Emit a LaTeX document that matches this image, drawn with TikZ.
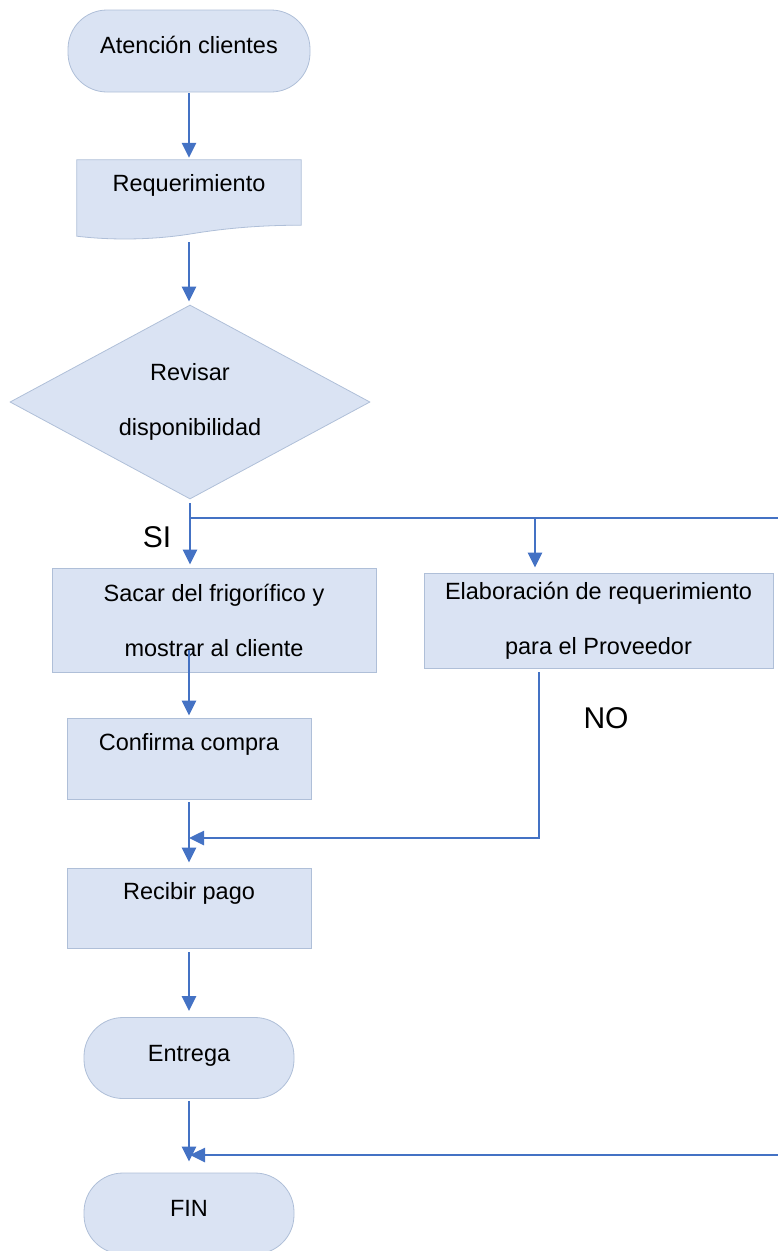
\documentclass[tikz,border=0pt]{standalone}
\usepackage{fontspec}
\setmainfont{Liberation Sans}
\usetikzlibrary{positioning, calc, arrows.meta, shapes.geometric, backgrounds}
\definecolor{boxfill}{HTML}{DAE3F3}
\definecolor{boxline}{HTML}{AFBFD8}
\definecolor{flowblue}{HTML}{4472C4}
\tikzset{
every node/.style = {font = \fontsize{23.5}{28}\selectfont},
terminal/.style = {rectangle, rounded corners = 39pt, draw = boxline, fill = boxfill,
   line width = .8pt, inner sep = 0pt, minimum width = 242pt, minimum height = 82pt},
process/.style = {rectangle, draw = boxline, fill = boxfill, line width = .8pt,
   inner sep = 0pt, minimum width = 244pt, minimum height = 81pt},
document/.style = {rectangle, inner sep = 0pt, minimum width = 224pt,
   minimum height = 77pt},
docedge/.style = {draw = boxline, fill = boxfill, line width = .8pt},
decision/.style = {diamond, draw = boxline, fill = boxfill, line width = .8pt,
   inner sep = 0pt, aspect = 1.86, minimum width = 360pt, minimum height = 194pt},
twoline/.style = {align = center, font = \fontsize{23.5}{55}\selectfont},
lift/.style = {text height = 17pt, text depth = #1},
answer/.style = {inner sep = 0pt, font = \fontsize{30}{36}\selectfont},
flow/.style = {-{Triangle[length = 15pt, width = 14pt]}, draw = flowblue,
   line width = 2.6pt},
flowthin/.style = {draw = flowblue, line width = 1.4pt}
}
\begin{document}
\begin{tikzpicture}[x = 1pt, y = -1pt]
\useasboundingbox (0,0) rectangle (778,1251);

%% Start and request
\node [terminal, lift = 12.5pt] (start) at (189,51) {Atención clientes};
\node [document, lift = 31.5pt] (req) at (189,198.5) {Requerimiento};
\begin{scope}[on background layer]
\path [docedge] (req.north west) -- (req.north east) -- ($(req.south east)+(0,-12)$)
   .. controls ($(req.south east)+(-41,-12)$) and ($(req.south)+(36,-9)$) .. ($(req.south)+(0,-3)$)
   .. controls ($(req.south)+(-39,3)$) and ($(req.south)+(-79,3)$) .. ($(req.south west)+(0,-1)$)
   -- cycle;
\end{scope}

%% Decision
\node [decision, twoline] (check) at (190,402) {Revisar\\disponibilidad};

%% Branches
\node [process, twoline, minimum width = 324pt, minimum height = 104pt] (sacar)
   at (214,620) {Sacar del frigorífico y\\mostrar al cliente};
\node [process, twoline, minimum width = 349pt, minimum height = 95pt] (elab)
   at (598.5,620.5) {Elaboración de requerimiento\\para el Proveedor};

\node [answer] (yes) at (157,537) {SI};
\node [answer] (no) at (606,718) {NO};

%% Sale
\node [process, lift = 33.5pt] (conf) at (189,758.5) {Confirma compra};
\node [process, lift = 34.5pt, minimum height = 80pt] (pago) at (189,908) {Recibir pago};
\node [terminal, lift = 10.5pt, minimum width = 210pt, minimum height = 81pt] (entrega)
   at (189,1058) {Entrega};
\node [terminal, lift = 10.5pt, minimum width = 210pt, minimum height = 81pt] (fin)
   at (189,1213.5) {FIN};

%% Join points
\coordinate (split) at (190,518);
\coordinate (elabin) at (535,518);
\coordinate (rightout) at (778,518);
\coordinate (nojoin) at (189,838);
\coordinate (rightin) at (778,1155);
\coordinate (finjoin) at (190,1155);

%% Connectors
\draw [flow, shorten < = 1pt, shorten > = 2pt] (start) -- (req);
\draw [flow, shorten < = 5pt, shorten > = 3pt] (req.south) -- (req.south |- check.north);
\draw [flow, shorten < = 4pt, shorten > = 3pt] (check.south) -- (check.south |- sacar.north);
\draw [flow, shorten > = 5pt] (split) -- (elabin) -- (elabin |- elab.north);
\draw [flowthin] (elabin) -- (rightout);

\draw [flow, shorten > = 2pt] ([yshift = 22pt]sacar.south -| conf.north) -- (conf.north);
\draw [flow, shorten < = 3pt, shorten > = 5pt] (conf) -- (pago);
\draw [flow] ([xshift = -59.5pt, yshift = -4pt]elab.south) |- (nojoin);
\draw [flow, shorten < = 4pt, shorten > = 6pt] (pago) -- (entrega);
\draw [flow, shorten < = 2pt, shorten > = 11pt] (entrega) -- (fin);
\draw [flow] (rightin) -- (finjoin);

\end{tikzpicture}
\end{document}
